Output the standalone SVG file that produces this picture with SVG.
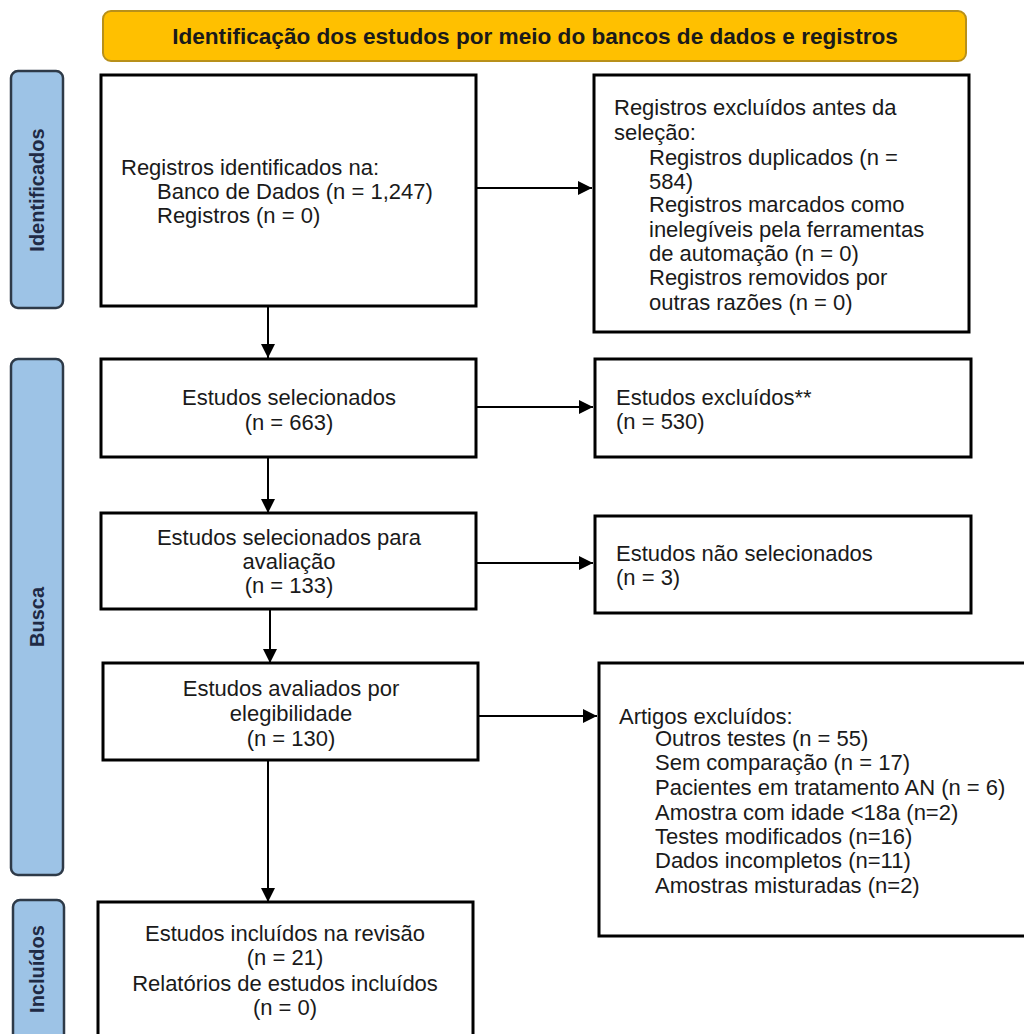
<svg xmlns="http://www.w3.org/2000/svg" width="1024" height="1034" viewBox="0 0 1024 1034">
<style>
.box{fill:#fff;stroke:#000;stroke-width:3}
.side{fill:#9dc3e6;stroke:#2e3a48;stroke-width:2.5}
.hdr{fill:#ffc000;stroke:#b8901a;stroke-width:2}
.t{font-family:"Liberation Sans",Arial,sans-serif;font-size:22px;fill:#1a1a1a}
.c{text-anchor:middle}
.h{font-family:"Liberation Sans",Arial,sans-serif;font-size:22.6px;font-weight:bold;fill:#1a1a1a;text-anchor:middle}
.s{font-family:"Liberation Sans",Arial,sans-serif;font-size:20px;font-weight:bold;fill:#1f2a44;text-anchor:middle}
.ln{stroke:#000;stroke-width:2;fill:none;marker-end:url(#ah)}
</style>
<defs>
<marker id="ah" viewBox="0 0 10 10" refX="10" refY="5" markerWidth="7.5" markerHeight="7" markerUnits="strokeWidth" orient="auto">
<path d="M0,0 L10,5 L0,10 Z" fill="#000"/>
</marker>
</defs>
<rect width="1024" height="1034" fill="#fff"/>

<g id="header">
<rect class="hdr" x="103" y="11" width="863" height="50" rx="8"/>
<text class="h" x="535" y="44">Identificação dos estudos por meio do bancos de dados e registros</text>
</g>

<g id="side-identificados">
<rect class="side" x="11" y="71" width="52" height="237" rx="7"/>
<text class="s" transform="translate(44,190) rotate(-90)">Identificados</text>
</g>
<g id="side-busca">
<rect class="side" x="11" y="359" width="52" height="516" rx="7"/>
<text class="s" transform="translate(44,617) rotate(-90)">Busca</text>
</g>
<g id="side-incluidos">
<rect class="side" x="13" y="900" width="51" height="150" rx="7"/>
<text class="s" transform="translate(44,969) rotate(-90)">Incluídos</text>
</g>

<g id="connectors">
<line class="ln" x1="268" y1="306" x2="268" y2="358"/>
<line class="ln" x1="268" y1="457" x2="268" y2="513"/>
<line class="ln" x1="270" y1="609" x2="270" y2="663"/>
<line class="ln" x1="268" y1="760" x2="268" y2="902"/>
<line class="ln" x1="476" y1="188" x2="592" y2="188"/>
<line class="ln" x1="476" y1="407" x2="593" y2="407"/>
<line class="ln" x1="476" y1="563" x2="593" y2="563"/>
<line class="ln" x1="478" y1="716" x2="597" y2="716"/>
</g>

<g id="n-identificados">
<rect class="box" x="101" y="75" width="375" height="231"/>
<text class="t" x="121" y="175">Registros identificados na:</text>
<text class="t" x="157" y="199">Banco de Dados (n = 1,247)</text>
<text class="t" x="157" y="223">Registros (n = 0)</text>
</g>

<g id="n-excluidos-antes">
<rect class="box" x="594" y="75" width="375" height="257"/>
<text class="t" x="614" y="115">Registros excluídos antes da</text>
<text class="t" x="614" y="140">seleção:</text>
<text class="t" x="649" y="165">Registros duplicados (n =</text>
<text class="t" x="649" y="189">584)</text>
<text class="t" x="649" y="212">Registros marcados como</text>
<text class="t" x="649" y="237">inelegíveis pela ferramentas</text>
<text class="t" x="649" y="261">de automação (n = 0)</text>
<text class="t" x="649" y="285">Registros removidos por</text>
<text class="t" x="649" y="310">outras razões (n = 0)</text>
</g>

<g id="n-selecionados">
<rect class="box" x="101" y="359" width="375" height="98"/>
<text class="t c" x="289" y="405">Estudos selecionados</text>
<text class="t c" x="289" y="430">(n = 663)</text>
</g>

<g id="n-excluidos">
<rect class="box" x="595" y="359" width="376" height="98"/>
<text class="t" x="616" y="405">Estudos excluídos**</text>
<text class="t" x="616" y="429">(n = 530)</text>
</g>

<g id="n-avaliacao">
<rect class="box" x="101" y="513" width="375" height="96"/>
<text class="t c" x="289" y="545">Estudos selecionados para</text>
<text class="t c" x="289" y="569">avaliação</text>
<text class="t c" x="289" y="593">(n = 133)</text>
</g>

<g id="n-nao-selecionados">
<rect class="box" x="595" y="516" width="376" height="97"/>
<text class="t" x="616" y="561">Estudos não selecionados</text>
<text class="t" x="616" y="585">(n = 3)</text>
</g>

<g id="n-elegibilidade">
<rect class="box" x="103" y="663" width="375" height="97"/>
<text class="t c" x="291" y="696">Estudos avaliados por</text>
<text class="t c" x="291" y="721">elegibilidade</text>
<text class="t c" x="291" y="746">(n = 130)</text>
</g>

<g id="n-artigos-excluidos">
<rect class="box" x="599" y="663" width="440" height="273"/>
<text class="t" x="619" y="724">Artigos excluídos:</text>
<text class="t" x="655" y="746">Outros testes (n = 55)</text>
<text class="t" x="655" y="770">Sem comparação (n = 17)</text>
<text class="t" x="655" y="795">Pacientes em tratamento AN (n = 6)</text>
<text class="t" x="655" y="820">Amostra com idade &lt;18a (n=2)</text>
<text class="t" x="655" y="844">Testes modificados (n=16)</text>
<text class="t" x="655" y="868">Dados incompletos (n=11)</text>
<text class="t" x="655" y="893">Amostras misturadas (n=2)</text>
</g>

<g id="n-incluidos">
<rect class="box" x="98" y="902" width="375" height="150"/>
<text class="t c" x="285" y="941">Estudos incluídos na revisão</text>
<text class="t c" x="285" y="965">(n = 21)</text>
<text class="t c" x="285" y="991">Relatórios de estudos incluídos</text>
<text class="t c" x="285" y="1015">(n = 0)</text>
</g>
</svg>
